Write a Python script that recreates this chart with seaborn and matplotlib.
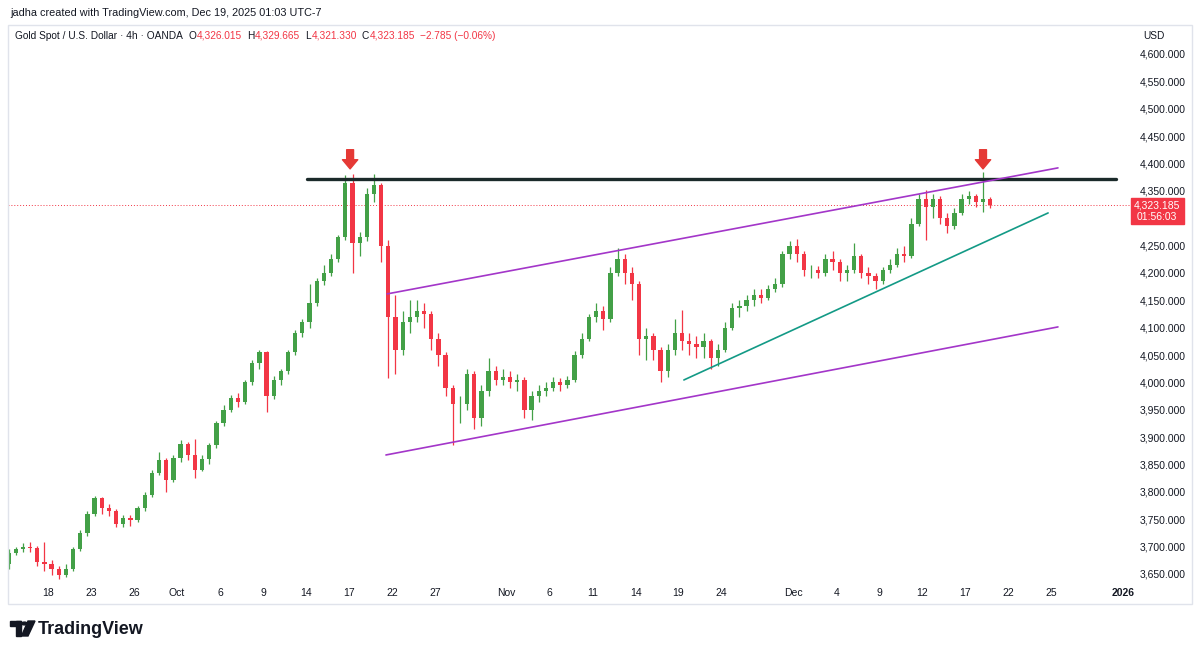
import numpy as np
import pandas as pd
import seaborn as sns
import matplotlib.pyplot as plt
from matplotlib.patches import Rectangle, Circle, Polygon
from matplotlib.transforms import Bbox, TransformedBbox, blended_transform_factory

# ---- data (2 candles per trading day) ----
start_day = '2025-09-15'
end_day = '2025-12-18'
first_open = 3668

closes = [3688, 3695, 3700, 3698, 3672, 3668, 3660, 3648, 3660, 3695,
          3725, 3760, 3788, 3770, 3765, 3742, 3752, 3748, 3770, 3795,
          3835, 3858, 3822, 3862, 3888, 3868, 3840, 3860, 3885, 3925,
          3950, 3972, 3965, 4000, 4035, 4055, 3975, 4005, 4020, 4055,
          4090, 4110, 4145, 4185, 4200, 4225, 4265, 4365, 4255, 4265,
          4345, 4360, 4250, 4120, 4060, 4110, 4120, 4130, 4125, 4080,
          4050, 3990, 3960, 3960, 4015, 3935, 3985, 4020, 4005, 4010,
          4000, 4005, 3950, 3975, 3985, 3990, 4000, 3995, 4005, 4050,
          4080, 4120, 4130, 4115, 4200, 4225, 4200, 4180, 4080, 4085,
          4060, 4020, 4060, 4090, 4075, 4070, 4065, 4075, 4045, 4060,
          4100, 4135, 4140, 4150, 4160, 4155, 4170, 4180, 4235, 4250,
          4235, 4205, 4205, 4200, 4225, 4220, 4200, 4205, 4230, 4200,
          4195, 4185, 4205, 4215, 4235, 4230, 4290, 4335, 4320, 4335,
          4300, 4285, 4310, 4335, 4340, 4330, 4335, 4323.185]

highs = [3695, 3700, 3707, 3708, 3702, 3708, 3675, 3665, 3668, 3700,
         3730, 3765, 3792, 3790, 3778, 3768, 3758, 3758, 3775, 3800,
         3840, 3872, 3862, 3868, 3895, 3892, 3897, 3868, 3890, 3930,
         3958, 3977, 3980, 4005, 4040, 4060, 4058, 4012, 4025, 4060,
         4095, 4115, 4180, 4190, 4215, 4235, 4270, 4378, 4380, 4275,
         4355, 4381, 4365, 4260, 4160, 4130, 4150, 4150, 4145, 4130,
         4090, 4055, 3995, 3975, 4025, 4020, 3995, 4045, 4030, 4025,
         4020, 4015, 4010, 3985, 3995, 4000, 4010, 4008, 4012, 4058,
         4090, 4125, 4145, 4140, 4210, 4245, 4235, 4210, 4185, 4100,
         4090, 4065, 4070, 4115, 4132, 4090, 4085, 4090, 4080, 4070,
         4110, 4145, 4150, 4160, 4170, 4170, 4178, 4190, 4240, 4258,
         4262, 4240, 4215, 4212, 4235, 4240, 4225, 4215, 4255, 4235,
         4210, 4200, 4210, 4225, 4245, 4250, 4300, 4345, 4352, 4345,
         4340, 4310, 4318, 4345, 4350, 4345, 4384, 4338]

lows = [3660, 3684, 3690, 3690, 3665, 3655, 3648, 3641, 3645, 3655,
        3692, 3720, 3755, 3760, 3755, 3735, 3735, 3738, 3745, 3765,
        3790, 3830, 3800, 3818, 3855, 3858, 3825, 3838, 3850, 3880,
        3920, 3945, 3955, 3960, 3995, 4025, 3945, 3970, 3995, 4015,
        4050, 4082, 4100, 4140, 4178, 4195, 4220, 4260, 4200, 4230,
        4258, 4330, 4220, 4008, 4015, 4050, 4090, 4110, 4100, 4060,
        4030, 3975, 3886, 3925, 3950, 3915, 3920, 3975, 3995, 3995,
        3990, 3985, 3935, 3932, 3965, 3975, 3985, 3985, 3990, 4000,
        4045, 4075, 4110, 4095, 4110, 4195, 4180, 4150, 4050, 4040,
        4040, 4000, 4010, 4050, 4060, 4050, 4045, 4045, 4025, 4030,
        4055, 4095, 4120, 4130, 4140, 4145, 4150, 4165, 4175, 4225,
        4220, 4195, 4190, 4190, 4195, 4205, 4185, 4185, 4200, 4190,
        4180, 4170, 4180, 4200, 4210, 4220, 4228, 4285, 4260, 4300,
        4290, 4273, 4280, 4305, 4325, 4320, 4311, 4318]

# drawn annotations: (time, price) pairs
resistance_t = ['2025-10-14 02:00', '2025-12-31 12:00']
resistance_p = [4371.7, 4371.7]
channel_top_t = ['2025-10-21 16:00', '2025-12-25 11:30']
channel_top_p = [4161.6, 4391.8]
channel_bot_t = ['2025-10-21 14:00', '2025-12-25 11:30']
channel_bot_p = [3867.4, 4101.3]
support_t = ['2025-11-19 09:00', '2025-12-24 19:00']
support_p = [4004.4, 4309.5]
arrow_t = ['2025-10-17 02:00', '2025-12-18 06:00']
arrow_tip, arrow_tail = 4390, 4425

tick_dates = ['2025-09-18', '2025-09-23', '2025-09-26', '2025-10-01', '2025-10-06',
              '2025-10-09', '2025-10-14', '2025-10-17', '2025-10-22', '2025-10-27',
              '2025-11-03', '2025-11-06', '2025-11-11', '2025-11-14', '2025-11-19',
              '2025-11-24', '2025-12-01', '2025-12-04', '2025-12-09', '2025-12-12',
              '2025-12-17', '2025-12-22', '2025-12-25', '2026-01-01']
tick_labels = ['18', '23', '26', 'Oct', '6', '9', '14', '17', '22', '27', 'Nov', '6',
               '11', '14', '19', '24', 'Dec', '4', '9', '12', '17', '22', '25', '2026']

price_ticks = list(range(3650, 4601, 50))
last_price = 4323.185
ohlc_header = [('O', '4,326.015'), ('H', '4,329.665'), ('L', '4,321.330'), ('C', '4,323.185')]
change_text = '−2.785 (−0.06%)'

# ---- trading-time axis (weekends removed, like TradingView) ----
cal = pd.bdate_range(start_day, '2026-01-02')


def tx(ts):
    ts = pd.Timestamp(ts)
    day = ts.normalize()
    return cal.get_loc(day) + (ts - day) / pd.Timedelta('1D')


days = pd.bdate_range(start_day, end_day)
bar_times = [d + pd.Timedelta(hours=h) for d in days for h in (6, 18)]
bars = pd.DataFrame({'x': [tx(t) for t in bar_times], 'close': closes,
                     'high': highs, 'low': lows})
bars['open'] = [first_open] + closes[:-1]

sns.set_theme(style='white')
plt.rcParams['font.family'] = ['Liberation Sans', 'DejaVu Sans']

W, H = 1200, 653
fig = plt.figure(figsize=(W / 100, H / 100), dpi=100)
ax = fig.add_axes([8 / W, 1 - 580 / H, 1125 / W, 554 / H])

up, down = '#43a047', '#f23645'
colors = np.where(bars['close'] >= bars['open'], up, down)
body_lo = np.minimum(bars['open'], bars['close'])
body_h = np.maximum(np.abs(bars['close'] - bars['open']), 1.0)
ax.vlines(bars['x'], bars['low'], bars['high'], colors=colors, lw=0.9, zorder=2)
ax.bar(bars['x'], body_h, bottom=body_lo, width=0.3, color=colors, lw=0, zorder=3)

# trend lines
sns.lineplot(x=[tx(t) for t in resistance_t], y=resistance_p, color='#1b2a2a', lw=2.4, ax=ax, zorder=4)
sns.lineplot(x=[tx(t) for t in channel_top_t], y=channel_top_p, color='#a336c9', lw=1.2, ax=ax, zorder=4)
sns.lineplot(x=[tx(t) for t in channel_bot_t], y=channel_bot_p, color='#a336c9', lw=1.2, ax=ax, zorder=4)
sns.lineplot(x=[tx(t) for t in support_t], y=support_p, color='#139a86', lw=1.2, ax=ax, zorder=4)

for t in arrow_t:
    ax.annotate('', xy=(tx(t), arrow_tip), xytext=(tx(t), arrow_tail),
                arrowprops=dict(arrowstyle='simple,head_length=0.6,head_width=1.0,tail_width=0.45',
                                color='#e53935', shrinkA=0, shrinkB=0, mutation_scale=11), zorder=6)

ax.axhline(last_price, color=down, lw=0.7, ls=(0, (1, 2)), zorder=1)

ax.set_xlim((8 - 5) / 14.33, (1133 - 5) / 14.33)
ax.set_ylim(3639, 4651)
for s in ax.spines.values():
    s.set_visible(False)

ax.set_xticks([tx(d) for d in tick_dates])
ax.set_xticklabels(tick_labels)
ax.yaxis.tick_right()
ax.set_yticks(price_ticks)
# the 4,300 label sits under the last-price tag, so it is not shown
ax.set_yticklabels(['' if v == 4300 else f'{v:,.3f}' for v in price_ticks])
ax.tick_params(axis='both', length=0, labelsize=7.5, labelcolor='#131722')
ax.tick_params(axis='x', pad=6)
ax.tick_params(axis='y', pad=5)
lab26 = ax.get_xticklabels()[-1]
lab26.set_fontweight('bold')
lab26.set_clip_on(True)
lab26.set_clip_box(TransformedBbox(Bbox([[0, -1], [1.001, 1]]), ax.transAxes))

# last price tag on the price scale
tr = blended_transform_factory(ax.transAxes, ax.transData)
ax.add_patch(Rectangle((0.998, 4290), 0.047, 46, transform=tr, color=down, clip_on=False, zorder=5))
ax.text(1.0215, 4313, f'{last_price:,.3f}\n01:56:03', transform=tr, ha='center', va='center',
        color='white', fontsize=7.5, linespacing=1.15, zorder=6, clip_on=False)


def fx(x):
    return x / W


def fy(y):
    return 1 - y / H


# frame
fig.add_artist(Rectangle((fx(8), fy(604)), fx(1184), 579 / H, fill=False, ec='#e0e3eb', lw=1))

fig.text(fx(10), fy(13), 'jadha created with TradingView.com, Dec 19, 2025 01:03 UTC-7',
         fontsize=7.8, color='#131722', va='center')

# legend line laid out piece by piece
renderer = fig.canvas.get_renderer()
pieces = [('Gold Spot / U.S. Dollar · 4h · OANDA', '#131722', 6)]
for letter, val in ohlc_header:
    pieces += [(letter, '#131722', 0.5), (val, down, 5)]
pieces.append((change_text, down, 0))
cur = 15
for txt, col, gap in pieces:
    t = fig.text(fx(cur), fy(36), txt, fontsize=7.3, color=col, va='center')
    cur = t.get_window_extent(renderer).x1 + gap
fig.text(fx(1143), fy(36), 'USD', fontsize=7.3, color='#131722', va='center')

# TradingView logo
fig.add_artist(Rectangle((fx(10), fy(626)), fx(11), 5 / H, color='#131722'))
fig.add_artist(Rectangle((fx(16), fy(636)), fx(5), 15 / H, color='#131722'))
fig.add_artist(Circle((fx(24.5), fy(623.5)), 2.6 / W, color='#131722', transform=fig.transFigure))
fig.add_artist(Polygon([(fx(28), fy(621)), (fx(35), fy(621)), (fx(28), fy(636)), (fx(21.5), fy(636))],
                       closed=True, color='#131722'))
fig.text(fx(38), fy(629), 'TradingView', fontsize=13, fontweight='bold', color='#131722', va='center')

fig.savefig('out.png', dpi=100, facecolor='white')
